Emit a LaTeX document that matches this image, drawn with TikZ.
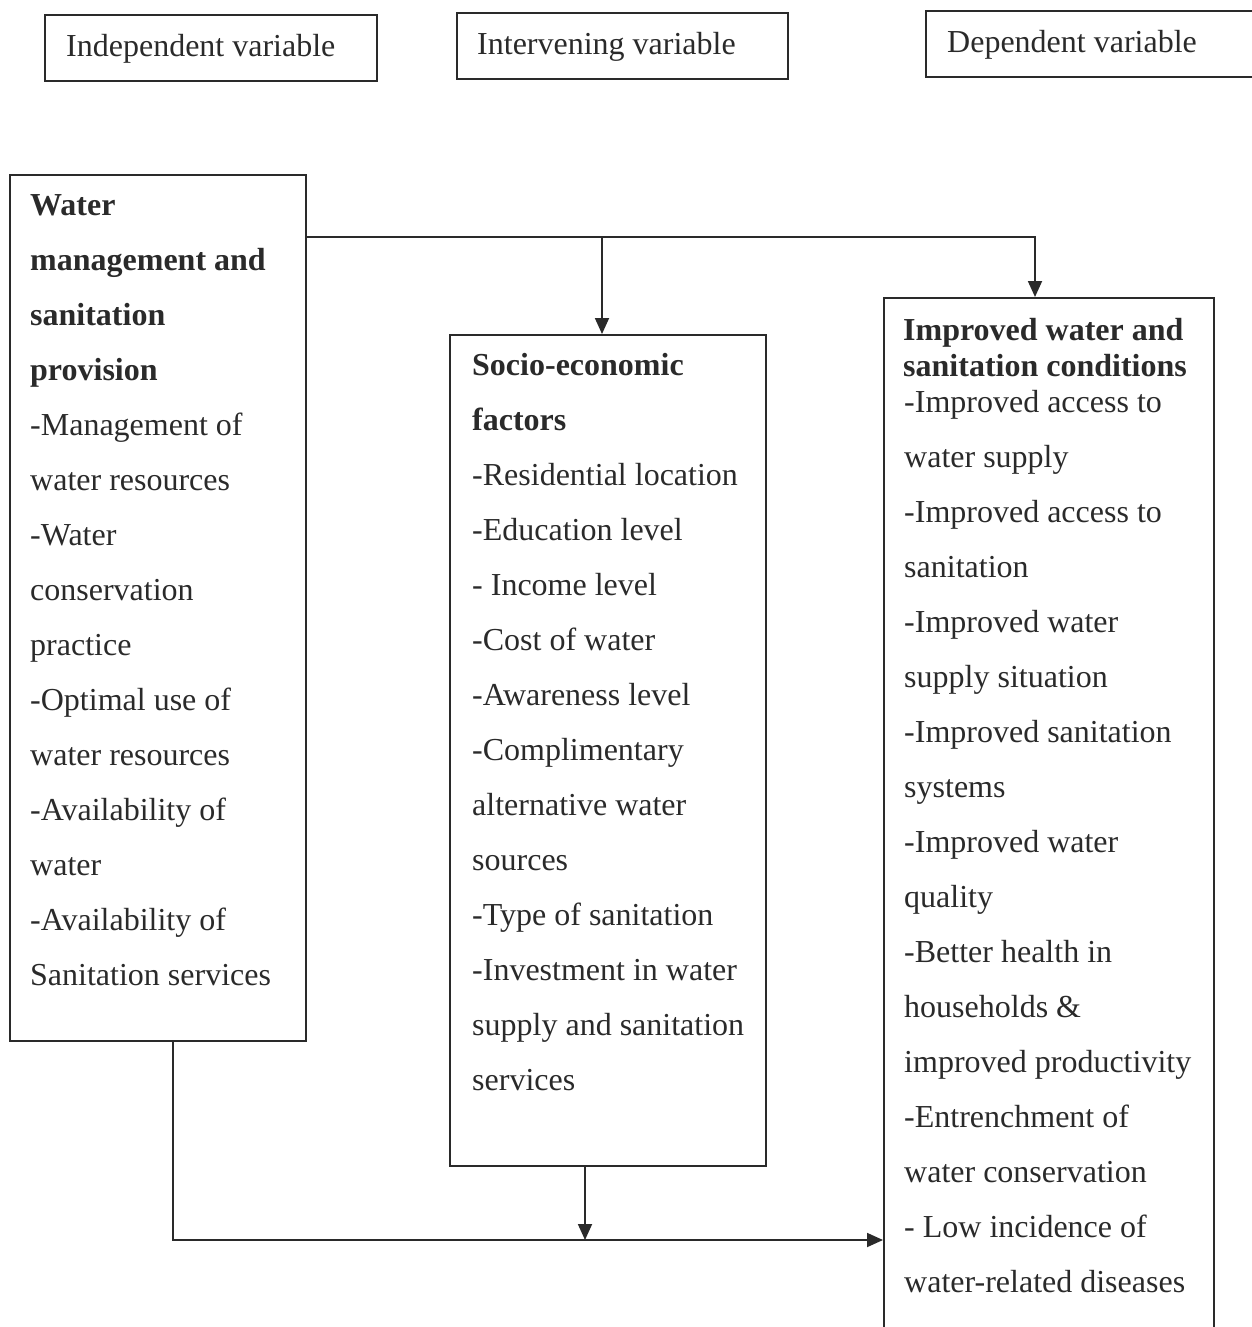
\documentclass[tikz,border=0pt]{standalone}
\usepackage{fontspec}
\setmainfont{Liberation Serif}
\usetikzlibrary{arrows.meta,calc}
\definecolor{ink}{HTML}{2A2A2A}
\begin{document}
\begin{tikzpicture}[x=1pt,y=-1pt,
  boxstyle/.style={draw=ink,line width=1.8pt,inner sep=0pt,anchor=north west},
  txt/.style={anchor=base west,inner sep=0pt,text=ink,font=\fontsize{32}{36}\selectfont},
  conn/.style={draw=ink,line width=1.8pt},
  arr/.style={conn,-{Triangle[length=16pt,width=14pt]}}]
\useasboundingbox (0,0) rectangle (1251,1327);
% top labels
\node[boxstyle,minimum width=332pt,minimum height=66pt] (indep) at (44,14) {};
\node[boxstyle,minimum width=331pt,minimum height=66pt] (inter) at (456,12) {};
\node[boxstyle,minimum width=420pt,minimum height=66pt] (dep) at (925,10) {};
\node[txt] (tindep) at (66,57) {Independent variable};
\node[txt] (tinter) at (477,55) {Intervening variable};
\node[txt] (tdep) at (947,53) {Dependent variable};
% main boxes
\node[boxstyle,minimum width=296pt,minimum height=866pt] (left) at (9,174) {};
\node[boxstyle,minimum width=316pt,minimum height=831pt] (mid) at (449,334) {};
\node[boxstyle,minimum width=330pt,minimum height=1050pt] (right) at (883,297) {};
% left text
\foreach \t [count=\i from 0] in {{\textbf{Water}},{\textbf{management and}},{\textbf{sanitation}},{\textbf{provision}},
  -Management of,water resources,-Water,conservation,practice,-Optimal use of,water resources,
  -Availability of,water,-Availability of,Sanitation services}
  \node[txt] (L\i) at (30,{215+55*\i}) {\t};
% middle text
\foreach \t [count=\i from 0] in {{\textbf{Socio-economic}},{\textbf{factors}},-Residential location,-Education level,
  - Income level,-Cost of water,-Awareness level,-Complimentary,alternative water,sources,
  -Type of sanitation,-Investment in water,supply and sanitation,services}
  \node[txt] (M\i) at (472,{375+55*\i}) {\t};
% right text
\node[txt] (RH1) at (903,340) {\textbf{Improved water and}};
\node[txt] (RH2) at (903,376) {\textbf{sanitation conditions}};
\foreach \t [count=\i from 0] in {-Improved access to,water supply,-Improved access to,sanitation,
  -Improved water,supply situation,-Improved sanitation,systems,-Improved water,quality,
  -Better health in,households \&,improved productivity,-Entrenchment of,water conservation,
  - Low incidence of,water-related diseases}
  \node[txt] (R\i) at (904,{412+55*\i}) {\t};
% connectors
\coordinate (jt) at (602,237);
\coordinate (jr) at (1035,237);
\coordinate (jl) at (173,1240);
\coordinate (jb) at (585,1240);
\draw[arr] (jt -| left.east) -- (jr) -- (jr |- right.north);
\draw[arr] (jt) -- (jt |- mid.north);
\draw[arr] (jl |- left.south) -- (jl) -- (jl -| right.west);
\draw[arr] (jb |- mid.south) -- (jb);
\end{tikzpicture}
\end{document}
